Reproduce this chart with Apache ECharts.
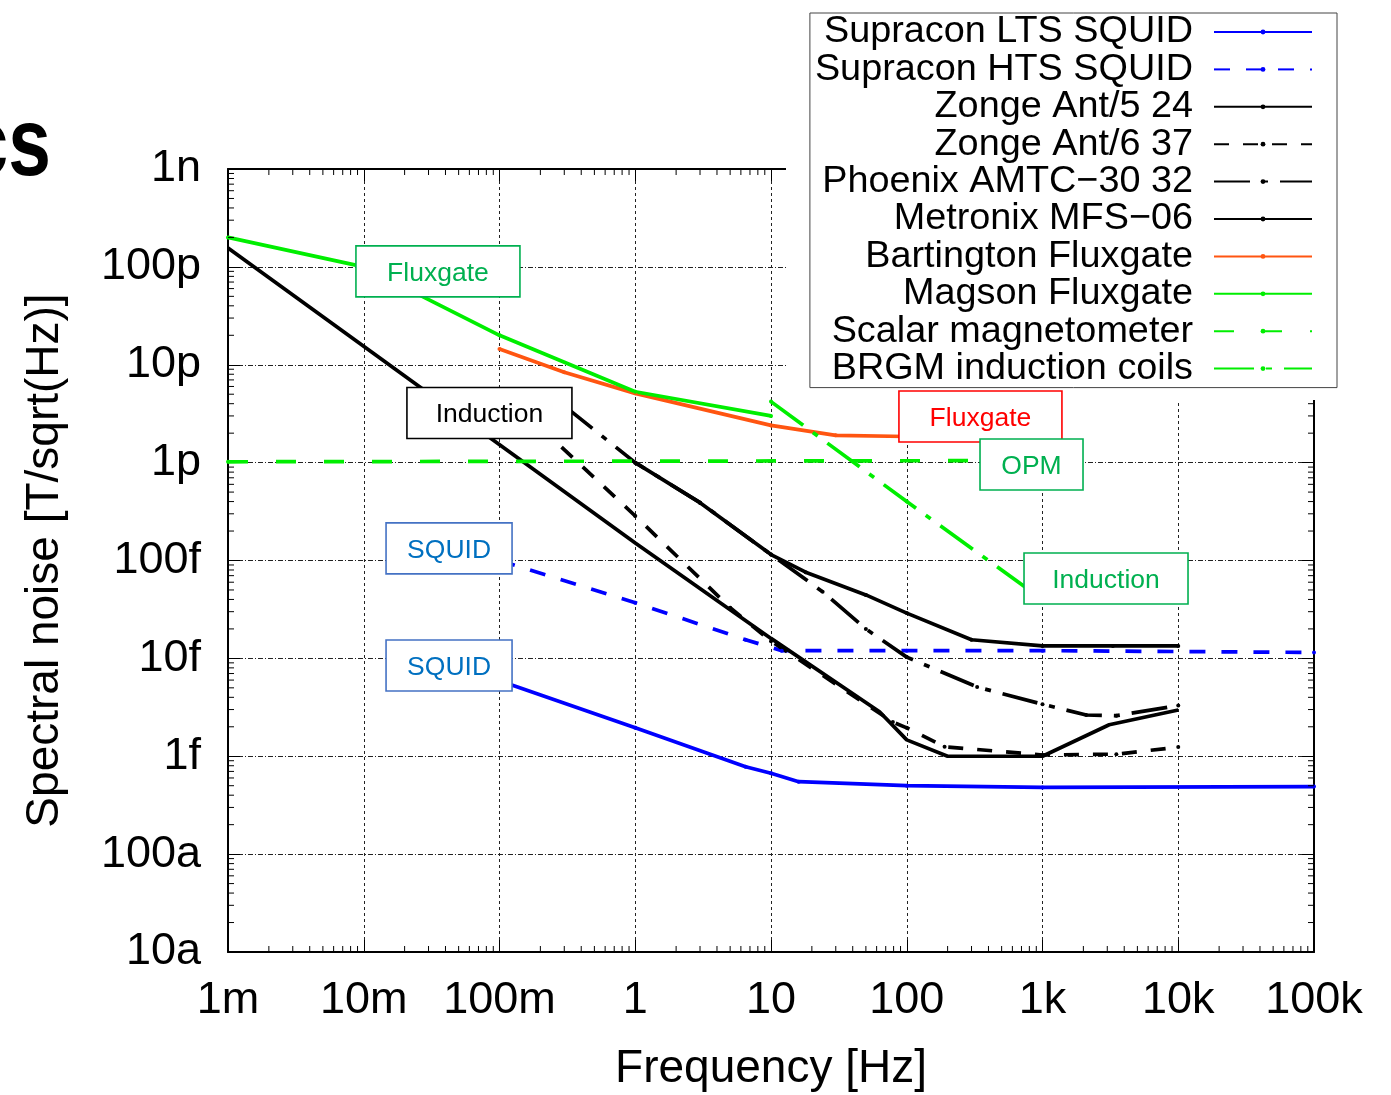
<!DOCTYPE html>
<html><head><meta charset="utf-8">
<script src="https://cdn.jsdelivr.net/npm/echarts@6/dist/echarts.min.js"></script>
<style>html,body{margin:0;padding:0;background:#fff}#c{width:1391px;height:1095px}</style>
</head><body><div id="c"></div>
<script>
// ---- tick labels ----
const xTickLabels = ['1m','10m','100m','1','10','100','1k','10k','100k'];
const yTickLabels = ['10a','100a','1f','10f','100f','1p','10p','100p','1n'];
const decadesX = [1e-3,1e-2,1e-1,1,10,100,1e3,1e4];
const decadesY = [1e-17,1e-16,1e-15,1e-14,1e-13,1e-12,1e-11,1e-10];
const minorSteps = [2,3,4,5,6,7,8,9];

// ---- series names ----
const seriesNames = ['Supracon LTS SQUID','Supracon HTS SQUID','Zonge Ant/5 24','Zonge Ant/6 37',
  'Phoenix AMTC\u221230 32','Metronix MFS\u221206','Bartington Fluxgate','Magson Fluxgate',
  'Scalar magnetometer','BRGM induction coils'];

// ---- data: [frequency Hz, noise T/sqrt(Hz)] ----
const ltsSquid = [[0.1,5.9e-15],[1,1.95e-15],[6.5,7.8e-16],[10,6.7e-16],[16,5.5e-16],[100,5.0e-16],[1000,4.8e-16],[100000,4.9e-16]];
const htsSquid = [[0.1,1.0e-13],[1,3.7e-14],[6.5,1.55e-14],[12,1.2e-14],[100,1.2e-14],[1000,1.2e-14],[100000,1.15e-14]];
const zonge5 = [[1,1.0e-12],[3,3.9e-13],[10,1.15e-13],[18,7.6e-14],[50,4.45e-14],[100,2.9e-14],[300,1.55e-14],[1000,1.34e-14],[3300,1.34e-14],[10000,1.34e-14]];
const zonge6 = [[0.2,2.3e-12],[1,2.85e-13],[5,3.3e-14],[10,1.5e-14],[79,2.24e-15],[100,1.95e-15],[190,1.25e-15],[1000,1.03e-15],[3500,1.05e-15],[10000,1.24e-15]];
const phoenix = [[0.3,3.8e-12],[1,1.0e-12],[3,3.9e-13],[10,1.15e-13],[24,4.8e-14],[50,2.0e-14],[100,1.03e-14],[330,5.1e-15],[1000,3.4e-15],[2100,2.64e-15],[3500,2.6e-15],[10000,3.3e-15]];
const metronix = [[0.001,1.56e-10],[1,1.51e-13],[10,1.6e-14],[63,2.85e-15],[100,1.47e-15],[200,1.0e-15],[1000,1.0e-15],[3100,2.1e-15],[10000,2.97e-15]];
const bartington = [[0.1,1.45e-11],[0.3,8.4e-12],[1,5.1e-12],[10,2.4e-12],[30,1.9e-12],[100,1.85e-12]];
const magson = [[0.001,2.0e-10],[0.01,1.0e-10],[0.1,2.0e-11],[1,5.3e-12],[10,3.0e-12]];
const scalarMag = [[0.001,1.02e-12],[1000,1.05e-12]];
const brgm = [[10,4.2e-12],[100,4.0e-13],[1000,4.0e-14]];

// ---- annotation boxes: anchor in data coords ----
const annTexts  = ['Fluxgate','Induction','SQUID','SQUID','Fluxgate','OPM','Induction'];
const annAnchor = [[0.0352,9.0e-11],[0.0843,3.21e-12],[0.0425,1.33e-13],[0.0425,8.45e-15],[349,2.96e-12],[830,9.57e-13],[2937,6.55e-14]];
const annText   = ['#00b050','#000000','#0070c0','#0070c0','#ff0000','#00b050','#00b050'];
const annBorder = ['#00b050','#000000','#4472c4','#4472c4','#ff0000','#00b050','#00b050'];
const annWidth  = [164,165,126,126,163,103,164];

const FONT = '"Liberation Sans", Arial, Helvetica, sans-serif';
const xMin = 1e-3, xMax = 1e5, yMin = 1e-17, yMax = 1e-9;

const xMinor = []; decadesX.forEach(d => minorSteps.forEach(s => xMinor.push([d*s, yMin])));
const yMinor = []; decadesY.forEach(d => minorSteps.forEach(s => yMinor.push([xMin, d*s])));

function xLab(v){ return xTickLabels[Math.round(Math.log10(v)) + 3] || ''; }
function yLab(v){ return yTickLabels[Math.round(Math.log10(v)) + 17] || ''; }

function lineSeries(name, data, color, type, symbol) {
  return { name, type:'line', data, xAxisIndex:0, yAxisIndex:0,
    symbol: symbol || 'circle', symbolSize: 4, showSymbol: true,
    itemStyle:{color}, lineStyle:{color, width:3.7, type, cap:'butt'},
    emphasis:{disabled:true}, silent:true, z:3, clip:true };
}

const chart = echarts.init(document.getElementById('c'));
const axisCommon = { type:'log', logBase:10, splitNumber:8 };
const option = {
  animation:false,
  backgroundColor:'#fff',
  grid:{ left:228, right:77, top:169, bottom:143, outerBoundsMode:'none' },
  xAxis:[
    Object.assign({}, axisCommon, { min:xMin, max:xMax, position:'bottom',
      axisLine:{show:true, lineStyle:{color:'#000', width:2}},
      axisTick:{show:true, inside:true, length:12, lineStyle:{color:'#000', width:1}},
      axisLabel:{formatter:xLab, fontSize:45, fontFamily:FONT, color:'#000', margin:26},
      splitLine:{show:true, lineStyle:{color:'#222', width:1, type:[3,3]}},
      name:'Frequency [Hz]', nameLocation:'middle', nameGap:94,
      nameTextStyle:{fontSize:46, fontFamily:FONT, color:'#000'} }),
    Object.assign({}, axisCommon, { min:xMin, max:xMax, position:'top',
      axisLine:{show:true, lineStyle:{color:'#000', width:2}},
      axisTick:{show:true, inside:true, length:12, lineStyle:{color:'#000', width:1}},
      axisLabel:{show:false}, splitLine:{show:false} })
  ],
  yAxis:[
    Object.assign({}, axisCommon, { min:yMin, max:yMax, position:'left',
      axisLine:{show:true, lineStyle:{color:'#000', width:2}},
      axisTick:{show:true, inside:true, length:12, lineStyle:{color:'#000', width:1}},
      axisLabel:{formatter:yLab, fontSize:45, fontFamily:FONT, color:'#000', margin:27},
      splitLine:{show:true, lineStyle:{color:'#222', width:1, type:[5,2,1,2]}},
      name:'Spectral noise [T/sqrt(Hz)]', nameLocation:'middle', nameGap:160, nameRotate:90,
      nameTextStyle:{fontSize:46, fontFamily:FONT, color:'#000'} }),
    Object.assign({}, axisCommon, { min:yMin, max:yMax, position:'right',
      axisLine:{show:true, lineStyle:{color:'#000', width:2}},
      axisTick:{show:true, inside:true, length:12, lineStyle:{color:'#000', width:1}},
      axisLabel:{show:false}, splitLine:{show:false} })
  ],
  legend:{
    data:seriesNames, orient:'vertical', align:'right', right:54, top:13,
    padding:[0,24,0,5], itemGap:-0.6, itemWidth:98, itemHeight:6,
    backgroundColor:'#fff', borderColor:'#444', borderWidth:1, borderRadius:0,
    selectedMode:false, z:50,
    textStyle:{fontSize:37.8, fontFamily:FONT, color:'#000', lineHeight:37.3, padding:[0,16,0,0]}
  },
  series:[
    lineSeries(seriesNames[0], ltsSquid, '#0000ff', 'solid'),
    lineSeries(seriesNames[1], htsSquid, '#0000ff', [16,16]),
    lineSeries(seriesNames[2], zonge5, '#000000', 'solid'),
    lineSeries(seriesNames[3], zonge6, '#000000', [15,14]),
    lineSeries(seriesNames[4], phoenix, '#000000', [36,12,6,12]),
    lineSeries(seriesNames[5], metronix, '#000000', 'solid', 'none'),
    lineSeries(seriesNames[6], bartington, '#ff5511', 'solid'),
    lineSeries(seriesNames[7], magson, '#00ee00', 'solid'),
    lineSeries(seriesNames[8], scalarMag, '#00ee00', [20,28]),
    lineSeries(seriesNames[9], brgm, '#00ee00', [40,12,6,12]),
    { type:'custom', name:'xminor', data:xMinor, xAxisIndex:0, yAxisIndex:0, silent:true, z:4, clip:false,
      renderItem:function(p, api){
        const v = api.value(0);
        const b = api.coord([v, yMin]), t = api.coord([v, yMax]);
        return {type:'group', children:[
          {type:'line', shape:{x1:b[0],y1:b[1],x2:b[0],y2:b[1]-6}, style:{stroke:'#000',lineWidth:1}},
          {type:'line', shape:{x1:t[0],y1:t[1],x2:t[0],y2:t[1]+6}, style:{stroke:'#000',lineWidth:1}}]};
      } },
    { type:'custom', name:'yminor', data:yMinor, xAxisIndex:0, yAxisIndex:0, silent:true, z:4, clip:false,
      renderItem:function(p, api){
        const v = api.value(1);
        const l = api.coord([xMin, v]), r = api.coord([xMax, v]);
        return {type:'group', children:[
          {type:'line', shape:{x1:l[0],y1:l[1],x2:l[0]+6,y2:l[1]}, style:{stroke:'#000',lineWidth:1}},
          {type:'line', shape:{x1:r[0],y1:r[1],x2:r[0]-6,y2:r[1]}, style:{stroke:'#000',lineWidth:1}}]};
      } }
  ]
};
chart.setOption(option);

// annotation boxes positioned through the grid's coordinate system
const gfx = [];
// white margin around the legend (hides frame near it, as in the original)
gfx.push({type:'rect', z:45, silent:true, shape:{x:786, y:0, width:605, height:400}, style:{fill:'#fff'}});
annTexts.forEach((txt, i) => {
  const c = chart.convertToPixel({gridIndex:0}, annAnchor[i]);
  const w = annWidth[i], h = 51;
  gfx.push({type:'rect', z:60, silent:true, shape:{x:c[0]-w/2, y:c[1]-h/2, width:w, height:h},
      style:{fill:'#fff', stroke:annBorder[i], lineWidth:1.6}});
  gfx.push({type:'text', z:61, silent:true, style:{text:txt, x:c[0], y:c[1]+2, align:'center', verticalAlign:'middle',
      fill:annText[i], fontSize:26.5, fontFamily:FONT}});
});
gfx.push({type:'text', z:61, x:51, y:149, scaleX:0.8, silent:true,
  style:{text:'cs', x:0, y:0, align:'right', verticalAlign:'middle',
  fill:'#000', fontSize:96, fontWeight:'bold', fontFamily:FONT}});
chart.setOption({graphic:gfx});
</script></body></html>
